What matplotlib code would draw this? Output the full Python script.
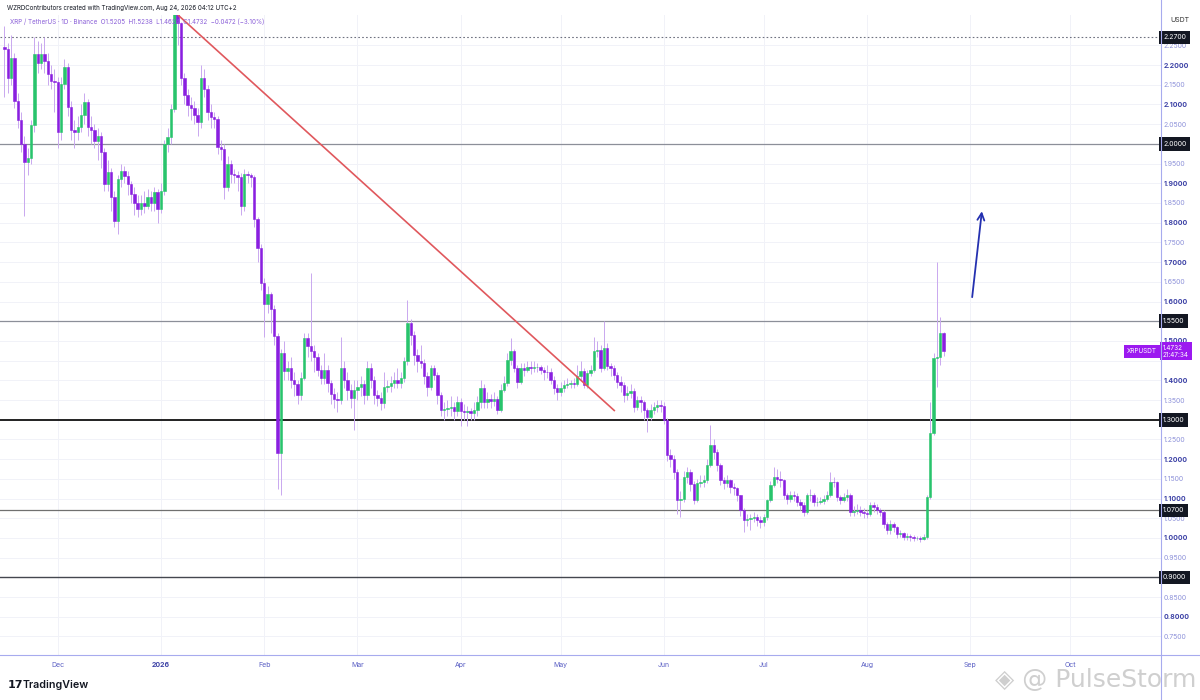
import matplotlib
matplotlib.use("Agg")
import matplotlib.pyplot as plt
from matplotlib.lines import Line2D
import matplotlib.transforms as mtransforms
import numpy as np

plt.rcParams['font.family'] = ['Inter', 'DejaVu Sans']

# ---------------- data ----------------
first_day = -47          # 15 Nov 2025, counted in days from 1 Jan 2026
first_open = 2.245

closes = [
    2.240, 2.166, 2.217, 2.110, 2.060, 2.000, 1.953, 1.965, 2.047, 2.227,
    2.204, 2.227, 2.210, 2.178, 2.160, 2.157, 2.030, 2.153, 2.195, 2.093,
    2.034, 2.030, 2.042, 2.072, 2.106, 2.042, 2.034, 2.008, 2.021, 1.979,
    1.898, 1.928, 1.864, 1.805, 1.911, 1.932, 1.919, 1.898, 1.873, 1.850,
    1.834, 1.851, 1.843, 1.864, 1.851, 1.877, 1.834, 1.881, 2.000, 2.017,
    2.089, 2.331, 2.306, 2.166, 2.123, 2.098, 2.090, 2.072, 2.055, 2.166,
    2.140, 2.081, 2.068, 2.064, 1.992, 1.987, 1.890, 1.949, 1.924, 1.920,
    1.915, 1.843, 1.924, 1.920, 1.915, 1.809, 1.737, 1.648, 1.593, 1.618,
    1.580, 1.512, 1.215, 1.469, 1.423, 1.431, 1.401, 1.390, 1.363, 1.406,
    1.508, 1.486, 1.474, 1.460, 1.427, 1.406, 1.427, 1.393, 1.365, 1.352,
    1.350, 1.431, 1.401, 1.376, 1.355, 1.376, 1.384, 1.390, 1.363, 1.431,
    1.401, 1.363, 1.355, 1.342, 1.384, 1.386, 1.393, 1.401, 1.393, 1.406,
    1.448, 1.546, 1.516, 1.465, 1.448, 1.445, 1.410, 1.384, 1.431, 1.414,
    1.363, 1.325, 1.327, 1.330, 1.333, 1.323, 1.346, 1.323, 1.320, 1.322,
    1.318, 1.325, 1.346, 1.380, 1.346, 1.352, 1.348, 1.352, 1.325, 1.376,
    1.393, 1.452, 1.474, 1.431, 1.397, 1.431, 1.427, 1.435, 1.431, 1.433,
    1.435, 1.427, 1.422, 1.420, 1.401, 1.380, 1.370, 1.380, 1.389, 1.391,
    1.392, 1.390, 1.410, 1.423, 1.389, 1.418, 1.427, 1.474, 1.478, 1.431,
    1.482, 1.436, 1.431, 1.414, 1.397, 1.389, 1.363, 1.368, 1.372, 1.333,
    1.350, 1.346, 1.325, 1.308, 1.325, 1.333, 1.338, 1.335, 1.300, 1.210,
    1.200, 1.168, 1.096, 1.100, 1.155, 1.168, 1.138, 1.096, 1.140, 1.143,
    1.147, 1.185, 1.236, 1.219, 1.185, 1.147, 1.140, 1.147, 1.130, 1.126,
    1.108, 1.070, 1.045, 1.048, 1.050, 1.054, 1.045, 1.040, 1.054, 1.096,
    1.134, 1.155, 1.150, 1.147, 1.108, 1.100, 1.110, 1.107, 1.091, 1.083,
    1.066, 1.108, 1.110, 1.092, 1.092, 1.094, 1.100, 1.110, 1.142, 1.141,
    1.104, 1.096, 1.104, 1.110, 1.066, 1.068, 1.071, 1.066, 1.063, 1.061,
    1.083, 1.078, 1.070, 1.066, 1.036, 1.019, 1.036, 1.028, 1.011, 1.012,
    1.003, 1.006, 1.002, 1.000, 1.000, 0.998, 1.003, 1.104, 1.266, 1.457,
    1.460, 1.5205, 1.4732,
]

highs = [
    2.300, 2.255, 2.275, 2.230, 2.130, 2.080, 2.020, 1.990, 2.060, 2.270,
    2.262, 2.255, 2.270, 2.230, 2.200, 2.190, 2.170, 2.170, 2.215, 2.205,
    2.110, 2.060, 2.070, 2.100, 2.130, 2.115, 2.070, 2.050, 2.040, 2.030,
    1.990, 1.960, 1.940, 1.880, 1.920, 1.950, 1.945, 1.930, 1.905, 1.890,
    1.870, 1.870, 1.880, 1.885, 1.880, 1.890, 1.885, 1.900, 2.010, 2.040,
    2.100, 2.345, 2.340, 2.310, 2.180, 2.140, 2.120, 2.110, 2.090, 2.200,
    2.190, 2.150, 2.100, 2.080, 2.070, 2.010, 2.000, 1.970, 1.960, 1.935,
    1.930, 1.925, 1.935, 1.930, 1.925, 1.920, 1.815, 1.745, 1.660, 1.640,
    1.625, 1.590, 1.520, 1.480, 1.500, 1.450, 1.460, 1.420, 1.400, 1.420,
    1.520, 1.520, 1.673, 1.490, 1.470, 1.440, 1.470, 1.440, 1.400, 1.380,
    1.370, 1.510, 1.450, 1.420, 1.390, 1.400, 1.400, 1.410, 1.400, 1.450,
    1.445, 1.410, 1.375, 1.370, 1.420, 1.400, 1.410, 1.420, 1.430, 1.420,
    1.460, 1.605, 1.555, 1.525, 1.480, 1.490, 1.455, 1.420, 1.440, 1.440,
    1.420, 1.370, 1.345, 1.350, 1.360, 1.345, 1.360, 1.355, 1.340, 1.335,
    1.330, 1.345, 1.360, 1.400, 1.390, 1.370, 1.365, 1.370, 1.360, 1.390,
    1.410, 1.470, 1.508, 1.480, 1.440, 1.445, 1.445, 1.450, 1.450, 1.450,
    1.445, 1.440, 1.435, 1.440, 1.430, 1.410, 1.390, 1.395, 1.400, 1.405,
    1.400, 1.405, 1.440, 1.450, 1.430, 1.425, 1.440, 1.510, 1.500, 1.490,
    1.550, 1.495, 1.445, 1.440, 1.420, 1.410, 1.395, 1.385, 1.390, 1.380,
    1.360, 1.360, 1.350, 1.330, 1.340, 1.345, 1.350, 1.350, 1.345, 1.305,
    1.225, 1.210, 1.175, 1.120, 1.170, 1.180, 1.175, 1.145, 1.150, 1.160,
    1.160, 1.200, 1.287, 1.250, 1.225, 1.190, 1.155, 1.160, 1.150, 1.140,
    1.130, 1.110, 1.075, 1.060, 1.060, 1.065, 1.060, 1.055, 1.060, 1.100,
    1.145, 1.180, 1.175, 1.170, 1.150, 1.115, 1.120, 1.120, 1.115, 1.100,
    1.090, 1.115, 1.125, 1.115, 1.105, 1.105, 1.110, 1.120, 1.168, 1.155,
    1.145, 1.110, 1.115, 1.125, 1.115, 1.080, 1.085, 1.080, 1.075, 1.070,
    1.090, 1.090, 1.085, 1.075, 1.070, 1.040, 1.045, 1.040, 1.030, 1.020,
    1.015, 1.012, 1.010, 1.008, 1.006, 1.004, 1.010, 1.110, 1.346, 1.470,
    1.699, 1.560, 1.5238,
]

lows = [
    2.120, 2.130, 2.150, 2.090, 2.040, 1.980, 1.817, 1.920, 1.950, 2.030,
    2.180, 2.190, 2.180, 2.150, 2.140, 2.080, 1.990, 2.010, 2.140, 2.070,
    2.010, 1.990, 2.010, 2.030, 2.050, 2.020, 2.000, 1.990, 1.960, 1.940,
    1.880, 1.880, 1.830, 1.790, 1.771, 1.890, 1.900, 1.870, 1.850, 1.820,
    1.815, 1.820, 1.825, 1.835, 1.830, 1.830, 1.800, 1.825, 1.870, 1.980,
    2.000, 2.080, 2.250, 2.150, 2.100, 2.070, 2.060, 2.050, 2.020, 2.040,
    2.120, 2.060, 2.040, 2.040, 1.975, 1.960, 1.860, 1.880, 1.900, 1.900,
    1.880, 1.820, 1.830, 1.900, 1.890, 1.790, 1.700, 1.630, 1.510, 1.570,
    1.520, 1.490, 1.125, 1.110, 1.400, 1.400, 1.380, 1.360, 1.340, 1.350,
    1.400, 1.460, 1.450, 1.420, 1.410, 1.390, 1.390, 1.370, 1.340, 1.330,
    1.320, 1.340, 1.380, 1.350, 1.330, 1.274, 1.350, 1.360, 1.340, 1.350,
    1.380, 1.340, 1.335, 1.325, 1.330, 1.370, 1.370, 1.380, 1.380, 1.380,
    1.395, 1.440, 1.490, 1.440, 1.420, 1.430, 1.390, 1.360, 1.375, 1.400,
    1.340, 1.310, 1.300, 1.310, 1.310, 1.300, 1.310, 1.283, 1.300, 1.283,
    1.300, 1.300, 1.310, 1.330, 1.330, 1.330, 1.330, 1.335, 1.315, 1.320,
    1.370, 1.385, 1.440, 1.420, 1.380, 1.390, 1.410, 1.420, 1.415, 1.420,
    1.420, 1.415, 1.400, 1.405, 1.390, 1.365, 1.350, 1.360, 1.370, 1.380,
    1.380, 1.380, 1.385, 1.400, 1.380, 1.380, 1.410, 1.420, 1.460, 1.420,
    1.425, 1.425, 1.410, 1.400, 1.380, 1.370, 1.345, 1.350, 1.355, 1.320,
    1.325, 1.320, 1.300, 1.270, 1.300, 1.315, 1.320, 1.320, 1.290, 1.195,
    1.180, 1.150, 1.060, 1.053, 1.090, 1.140, 1.120, 1.085, 1.090, 1.130,
    1.130, 1.140, 1.180, 1.200, 1.170, 1.135, 1.125, 1.130, 1.115, 1.110,
    1.095, 1.055, 1.015, 1.030, 1.020, 1.040, 1.030, 1.025, 1.030, 1.045,
    1.090, 1.130, 1.140, 1.130, 1.100, 1.085, 1.090, 1.095, 1.080, 1.070,
    1.055, 1.060, 1.095, 1.080, 1.080, 1.085, 1.085, 1.095, 1.105, 1.130,
    1.095, 1.085, 1.090, 1.095, 1.055, 1.055, 1.060, 1.055, 1.050, 1.050,
    1.055, 1.065, 1.060, 1.055, 1.025, 1.010, 1.010, 1.015, 1.000, 1.002,
    0.995, 0.995, 0.993, 0.992, 0.994, 0.990, 0.994, 0.998, 1.100, 1.260,
    1.384, 1.440, 1.4624,
]

month_days = [-31, 0, 31, 59, 90, 120, 151, 181, 212, 243, 273]
month_labels = ["Dec", "2026", "Feb", "Mar", "Apr", "May", "Jun", "Jul", "Aug", "Sep", "Oct"]

price_ticks = [0.75, 0.80, 0.85, 0.90, 0.95, 1.00, 1.05, 1.10, 1.15, 1.20, 1.25,
               1.30, 1.35, 1.40, 1.45, 1.50, 1.55, 1.60, 1.65, 1.70, 1.75, 1.80,
               1.85, 1.90, 1.95, 2.00, 2.05, 2.10, 2.15, 2.20, 2.25]
# tick labels that sit fully under a price box in the reference
hidden_ticks = [0.90, 1.30, 1.45, 1.55, 2.00]

level_prices = [2.27, 2.00, 1.55, 1.30, 1.07, 0.90]
level_labels = ["2.2700", "2.0000", "1.5500", "1.3000", "1.0700", "0.9000"]

trend_days = [5.1, 136.3]
trend_prices = [2.327, 1.322]

arrow_days = [243.5, 246.6]
arrow_prices = [1.604, 1.836]

last_price = 1.4732
last_price_label = "1.4732\n21:47:34"

header_1 = "WZRDContributors created with TradingView.com, Aug 24, 2026 04:12 UTC+2"
header_2 = "XRP / TetherUS · 1D · Binance  O1.5205  H1.5238  L1.4624  C1.4732  \u22120.0472 (\u22123.10%)"

# ---------------- styles ----------------
GREEN = "#28c46c"
PURPLE = "#8a1fe0"
WICK = "#c9a8ef"
AXIS_C = "#a7abee"

W, H = 1200, 700
fig = plt.figure(figsize=(12, 7), dpi=100)
fig.patch.set_facecolor("white")
ax = fig.add_axes([0, 45 / H, 1161 / W, 640 / H])
ax.set_facecolor("white")

x = np.arange(len(closes)) + first_day
c = np.array(closes)
o = np.array([first_open] + closes[:-1])
hi = np.maximum(np.array(highs), np.maximum(o, c))
lo = np.minimum(np.array(lows), np.minimum(o, c))
cols = np.where(c >= o, GREEN, PURPLE)

ax.vlines(x, lo, hi, colors=WICK, linewidth=0.7, zorder=3)
ax.bar(x, c - o, bottom=o, width=0.72, color=cols, edgecolor=cols,
       linewidth=0.4, zorder=4)

ax.set_xlim(-48.35, 300.3)
ax.set_ylim(0.703, 2.327)

# grid and ticks
ax.set_xticks(month_days)
ax.set_xticklabels(month_labels)
ax.set_yticks(price_ticks)
ax.set_yticklabels(["" if any(abs(p - h) < 1e-9 for h in hidden_ticks) else f"{p:.4f}"
                    for p in price_ticks])
ax.yaxis.tick_right()
ax.grid(True, color="#f1f2f8", linewidth=0.7, zorder=0)
ax.tick_params(axis="y", length=0, pad=2, labelsize=5)
ax.tick_params(axis="x", length=0, pad=5, labelsize=5, labelcolor="#5a5fc4")
for lab, p in zip(ax.get_yticklabels(), price_ticks):
    major = abs(round(p * 10) - p * 10) < 1e-6
    lab.set_color("#3d42a6" if major else "#8f93da")
    lab.set_fontweight("bold" if major else "normal")
for lab in ax.get_xticklabels():
    if lab.get_text() == "2026":
        lab.set_fontweight("bold")
        lab.set_color("#3d42a6")

for s in ["top", "left", "right", "bottom"]:
    ax.spines[s].set_visible(False)

# frame lines (axis lines extend to figure edges)
fig.add_artist(Line2D([0, 1], [45 / H, 45 / H], color=AXIS_C, lw=0.8))
fig.add_artist(Line2D([1161 / W, 1161 / W], [0, 1], color=AXIS_C, lw=0.8))

# horizontal levels
level_style = {
    2.27: dict(color="#6f7280", lw=0.8, ls=(0, (1.5, 2))),
    2.00: dict(color="#8c8f99", lw=0.9, ls="-"),
    1.55: dict(color="#8c8f99", lw=0.9, ls="-"),
    1.30: dict(color="#111111", lw=1.3, ls="-"),
    1.07: dict(color="#707070", lw=0.9, ls="-"),
    0.90: dict(color="#44474f", lw=1.0, ls="-"),
}
trans = mtransforms.blended_transform_factory(ax.transAxes, ax.transData)
for p, lab in zip(level_prices, level_labels):
    st = level_style[p]
    ax.axhline(p, color=st["color"], lw=st["lw"], ls=st["ls"], zorder=2)
    ax.text(1.0 + 2 / 1161, p, lab, transform=trans, ha="left", va="center",
            fontsize=5, color="white", clip_on=False, zorder=20,
            bbox=dict(boxstyle="square,pad=0.55", fc="#131722", ec="none"))

# current price marker
ax.text(1.0 - 4 / 1161, last_price, "XRPUSDT", transform=trans, ha="right",
        va="center", fontsize=4.6, color="white", clip_on=False, zorder=20,
        bbox=dict(boxstyle="square,pad=0.5", fc="#9c19f0", ec="none"))
ax.text(1.0 + 2 / 1161, last_price, last_price_label, transform=trans, ha="left",
        va="center", fontsize=4.6, color="white", clip_on=False, zorder=20,
        linespacing=1.05,
        bbox=dict(boxstyle="square,pad=0.45", fc="#9c19f0", ec="none"))

# trend line and arrow
ax.plot(trend_days, trend_prices, color="#e0585d", lw=1.2, zorder=5,
        solid_capstyle="butt")
ax.annotate("", xy=(arrow_days[1], arrow_prices[1]),
            xytext=(arrow_days[0], arrow_prices[0]),
            arrowprops=dict(arrowstyle="->,head_length=0.5,head_width=0.25",
                            color="#2430b0", lw=1.3), zorder=6)

# header texts
fig.text(7 / W, 1 - 8 / H, header_1, fontsize=4.45, color="#131722",
         ha="left", va="center")
fig.text(10 / W, 1 - 22 / H, header_2, fontsize=4.5, color="#8a5fd8",
         ha="left", va="center")

# "USDT" unit at top right
fig.text(1170 / W, 1 - 20 / H, "USDT", fontsize=5, color="#333333",
         ha="left", va="center")

# TradingView logo text
fig.text(8 / W, 1 - 685 / H, "17", fontsize=8, color="#131722",
         fontweight="heavy", ha="left", va="center", family="DejaVu Sans")
fig.text(23 / W, 1 - 685 / H, "TradingView", fontsize=7.7, color="#131722",
         fontweight="semibold", ha="left", va="center")

# watermark
fig.text(1196 / W, 1 - 680 / H, "\u25c8 @ PulseStorm", fontsize=18,
         color="#cfcfcf", ha="right", va="center", family="DejaVu Sans")

fig.savefig("out.png", dpi=100, facecolor="white")
